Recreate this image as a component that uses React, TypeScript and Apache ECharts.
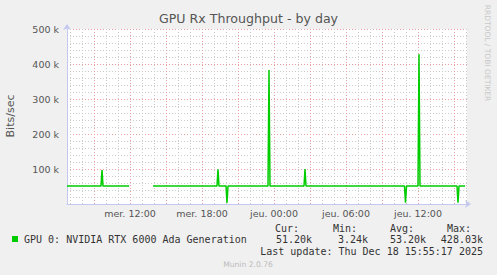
import React, { useEffect, useRef } from "react";
import * as echarts from "echarts";

// hours since Wed 00:00 (mer.), values in kbit/s
const hours = [
  6.75, 9.583, 9.667, 9.75, 11.917, 12.9, 13.917,
  19.25, 19.333, 19.417, 20.0, 20.083, 20.167,
  23.5, 23.583, 23.667, 26.5, 26.583, 26.667,
  34.875, 34.958, 35.042, 36.0, 36.083, 36.167,
  39.25, 39.333, 39.417, 39.917,
];
const rxK: (number | null)[] = [
  51.2, 51.2, 97, 51.2, 51.2, null, 51.2,
  51.2, 99, 51.2, 51.2, 3.24, 51.2,
  51.2, 383, 51.2, 51.2, 100, 51.2,
  51.2, 3.6, 51.2, 51.2, 428.03, 51.2,
  51.2, 3.4, 51.2, 51.2,
];
const xLabelHours = [12, 18, 24, 30, 36];
const majorGridHours = [9, 12, 15, 18, 21, 24, 27, 30, 33, 36, 39];
const minorGridHours = [7, 8, 10, 11, 13, 14, 16, 17, 19, 20, 22, 23, 25, 26, 28, 29, 31, 32, 34, 35, 37, 38, 40];
const seriesName = "GPU 0: NVIDIA RTX 6000 Ada Generation";
const statHeads = ["Cur:", "Min:", "Avg:", "Max:"];
const statValues = ["51.20k", "3.24k", "53.20k", "428.03k"];
const lastUpdate = "Last update: Thu Dec 18 15:55:17 2025";

const SANS = "DejaVu Sans";
const MONO = "DejaVu Sans Mono";

export default function App() {
  const ref = useRef<HTMLDivElement>(null);
  useEffect(() => {
    const chart = echarts.init(ref.current!, null, { renderer: "svg" });
    const data = hours.map((h, i) => [h, rxK[i]]);
    const dayName = (h: number) => (h < 24 ? "mer." : "jeu.");
    const fmt = (h: number) => {
      const hh = Math.round(h) % 24;
      return `${dayName(h)} ${String(hh).padStart(2, "0")}:00`;
    };
    const headX = [275, 333, 390, 447];
    const valRight = [312, 368, 426, 483];
    chart.setOption({
      animation: false,
      backgroundColor: "#f0f0f0",
      grid: {
        left: 67, top: 29, width: 400, height: 175,
        show: true, backgroundColor: "#ffffff", borderWidth: 0,
        containLabel: false, outerBoundsMode: "none",
      },
      xAxis: {
        type: "value", min: 6.75, max: 40.0833,
        splitLine: { show: false },
        axisTick: { show: false, customValues: xLabelHours },
        axisLine: {
          show: true, lineStyle: { color: "#c4c8f0", width: 1 },
          symbol: ["none", "arrow"], symbolSize: [6, 6], symbolOffset: [0, 4],
        },
        axisLabel: {
          customValues: xLabelHours,
          formatter: (v: number) => fmt(v),
          color: "#555", fontFamily: SANS, fontSize: 9.5, margin: 4,
        },
      },
      yAxis: {
        type: "value", min: 0, max: 500, interval: 100,
        axisLine: {
          show: true, lineStyle: { color: "#c4c8f0", width: 1 },
          symbol: ["none", "arrow"], symbolSize: [6, 6], symbolOffset: [0, 5],
        },
        axisTick: { show: false },
        axisLabel: {
          formatter: (v: number) => (v === 0 ? "" : `${v} k`),
          color: "#555", fontFamily: SANS, fontSize: 9.5, margin: 8,
        },
        splitLine: { show: true, lineStyle: { color: "#eaa0a0", type: [1, 2], width: 1 } },
        minorTick: { show: false, splitNumber: 5 },
        minorSplitLine: { show: true, lineStyle: { color: "#cccccc", type: [1, 2], width: 1 } },
      },
      series: [
        {
          type: "line", name: "grid", data: [], z: 1, silent: true,
          markLine: {
            silent: true, symbol: "none", label: { show: false }, animation: false,
            data: [
              ...minorGridHours.map((h) => ({ xAxis: h, lineStyle: { color: "#cccccc", type: [1, 2], width: 1 } })),
              ...majorGridHours.map((h) => ({ xAxis: h, lineStyle: { color: "#eaa0a0", type: [1, 2], width: 1 } })),
            ],
          },
        },
        {
          type: "line", name: seriesName, data, z: 5, showSymbol: false,
          connectNulls: false, lineStyle: { color: "#00cc00", width: 1.5 },
          itemStyle: { color: "#00cc00" },
        },
      ],
      legend: {
        data: [seriesName], left: 12, top: 234, icon: "rect", itemWidth: 6, itemHeight: 6,
        itemGap: 0, padding: 0,
        textStyle: { fontFamily: MONO, fontSize: 10, color: "#333", padding: [0, 0, 0, 1] },
      },
      graphic: [
        {
          type: "text", left: "center", top: 12,
          style: { text: "GPU Rx Throughput - by day", font: `12.6px '${SANS}'`, fill: "#555" },
        },
        {
          type: "text", x: 10, y: 116, rotation: Math.PI / 2,
          style: { text: "Bits/sec", font: `11px '${SANS}'`, fill: "#555", textAlign: "center", textVerticalAlign: "middle" },
        },
        {
          type: "text", x: 487.5, y: 53, rotation: -Math.PI / 2,
          style: { text: "RRDTOOL / TOBI OETIKER", font: `7.5px '${SANS}'`, fill: "#c8c8c8", textAlign: "center", textVerticalAlign: "middle" },
        },
        ...statHeads.map((t, i) => ({
          type: "text", x: headX[i], y: 228.5,
          style: { text: t, font: `10px '${MONO}'`, fill: "#333", textAlign: "left", textVerticalAlign: "middle" },
        })),
        ...statValues.map((t, i) => ({
          type: "text", x: valRight[i], y: 239.5,
          style: { text: t, font: `10px '${MONO}'`, fill: "#333", textAlign: "right", textVerticalAlign: "middle" },
        })),
        {
          type: "text", x: 483, y: 251.5,
          style: { text: lastUpdate, font: `10px '${MONO}'`, fill: "#333", textAlign: "right", textVerticalAlign: "middle" },
        },
        {
          type: "text", x: 248, y: 264.5,
          style: { text: "Munin 2.0.76", font: `7.6px '${SANS}'`, fill: "#bbbbbb", textAlign: "center", textVerticalAlign: "middle" },
        },
      ],
    });
    return () => chart.dispose();
  }, []);
  return (
    <div
      ref={ref}
      style={{ position: "fixed", left: 0, top: 0, width: 497, height: 275 }}
    />
  );
}
